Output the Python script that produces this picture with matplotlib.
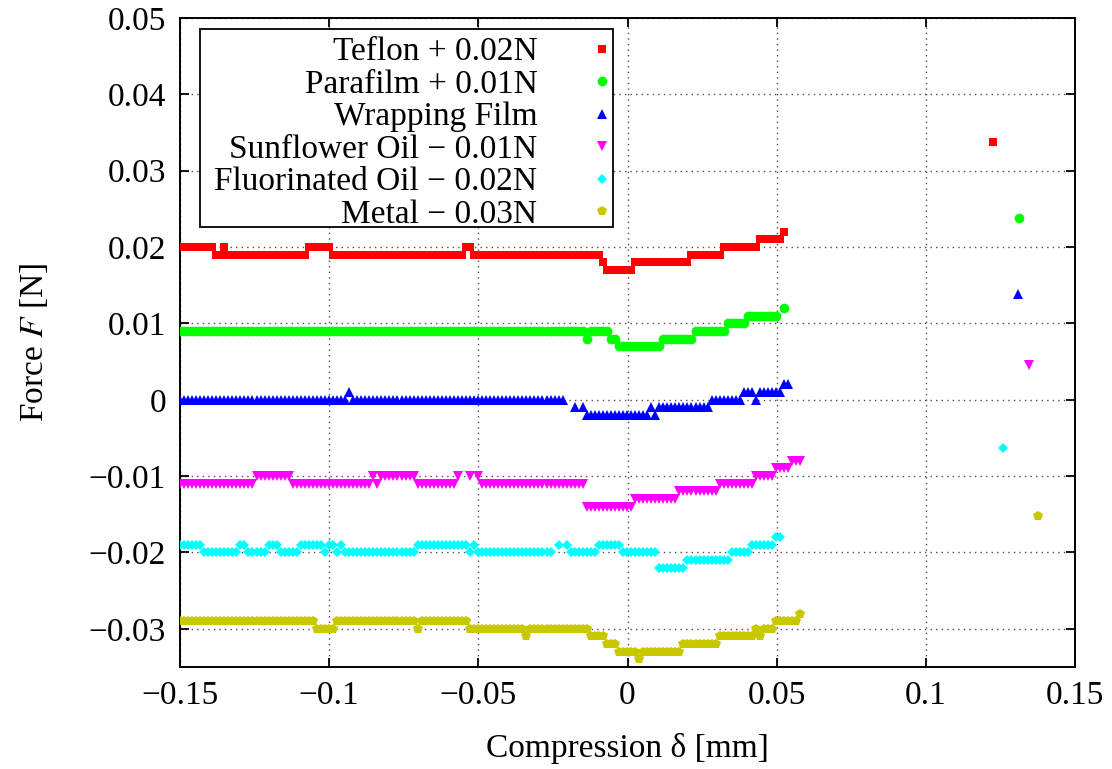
import numpy as np
import matplotlib
matplotlib.use("Agg")
import matplotlib.pyplot as plt
from matplotlib.patches import Rectangle
from matplotlib.ticker import MultipleLocator, FuncFormatter

# sampling of the compression axis (mm)
x_start = -0.15
x_step = 0.00135

# force readings, run-length coded: level in mN (None = no reading), repeat count
teflon_lv = [0, -1, 0, -1, 0, -1, 0, -1, -2, -3, -2, -1, 0, 1, 2]
teflon_n = [9, 2, 1, 20, 6, 33, 2, 32, 1, 7, 14, 8, 9, 6, 1]

parafilm_lv = [-1, -2, -1, -2, -3, -2, -1, 0, 1, None, 2]
parafilm_n = [101, 1, 5, 2, 11, 8, 8, 5, 8, 1, 1]

wrap_lv = [0, 1, 0, None, -1, None, -1, -2, -1, -2, -1, 0, 1, 0, 1, 2]
wrap_n = [42, 1, 53, 2, 1, 1, 1, 16, 1, 1, 13, 8, 3, 1, 6, 2]

sunflower_lv = [-1, 0, -1, 0, -1, 0, -1, 0, None, 0, None, 0, -1, -4, -3, -2, -1, 0, 1, 2]
sunflower_n = [19, 9, 20, 1, 1, 9, 10, 1, 2, 1, 1, 1, 26, 12, 11, 10, 9, 5, 4, 3]

fluor_lv = [1, 0, 1, 0, 1, 0, 1, 0, 1, 0, 1, 0, 1, 0, 1, 0, None, 1, None, 1, 0, 1, 0, -2, -1, 0, 1, 2]
fluor_n = [6, 9, 2, 5, 3, 5, 6, 1, 2, 1, 1, 18, 13, 1, 1, 19, 1, 1, 1, 1, 7, 6, 9, 7, 11, 5, 6, 2]

metal_lv = [1, 0, 1, 0, 1, 0, -1, 0, -1, -2, -3, -4, -3, -2, -1, 0, -1, 0, 1, 2]
metal_n = [34, 5, 20, 1, 12, 14, 1, 15, 4, 3, 5, 1, 10, 9, 9, 1, 1, 3, 6, 1]

# last reading of every run (far compression)
end_x = [0.1225, 0.1312, 0.1310, 0.1346, 0.1259, 0.1376]
end_f = [0.0138, 0.0138, 0.0139, 0.0146, 0.0137, 0.0148]

labels = ["Teflon + 0.02N", "Parafilm + 0.01N", "Wrapping Film",
          "Sunflower Oil \u2212 0.01N", "Fluorinated Oil \u2212 0.02N", "Metal \u2212 0.03N"]
offsets = [0.02, 0.01, 0.0, -0.01, -0.02, -0.03]
colors = ["#ff0000", "#00ff00", "#0000ff", "#ff00ff", "#00ffff", "#c8c800"]
markers = ["s", "o", "^", "v", "D", "p"]
msizes = [6.4, 7.0, 7.0, 7.0, 4.8, 7.2]
runs = [(teflon_lv, teflon_n), (parafilm_lv, parafilm_n), (wrap_lv, wrap_n),
        (sunflower_lv, sunflower_n), (fluor_lv, fluor_n), (metal_lv, metal_n)]


def expand(lv, n):
    y = []
    for v, c in zip(lv, n):
        y += [np.nan if v is None else v / 1000.0] * c
    return np.array(y)


plt.rcParams['font.family'] = ['Liberation Serif', 'DejaVu Serif']
plt.rcParams['mathtext.fontset'] = 'stix'
FS = 24

fig = plt.figure(figsize=(11.12, 7.69), dpi=100)
ax = fig.add_axes([180/1112, 1-667/769, 895/1112, 649/769])

for k in range(6):
    f = expand(*runs[k])
    x = x_start + x_step * np.arange(len(f))
    ax.plot(np.append(x, end_x[k]), np.append(f, end_f[k]) + offsets[k],
            linestyle="none", marker=markers[k], ms=msizes[k], color=colors[k],
            mec=colors[k], mew=0, label=labels[k], zorder=3)

ax.set_xlim(-0.15, 0.15)
ax.set_ylim(-0.035, 0.05)
ax.xaxis.set_major_locator(MultipleLocator(0.05))
ax.yaxis.set_major_locator(MultipleLocator(0.01))


def fmt(v, pos):
    if abs(v) < 1e-9:
        return "0"
    return ("%g" % round(v, 4)).replace("-", "\u2212")


ax.xaxis.set_major_formatter(FuncFormatter(fmt))
ax.yaxis.set_major_formatter(FuncFormatter(fmt))
ax.tick_params(direction="in", length=6.5, width=1.3, top=True, right=True,
               labelsize=FS, pad=10)
for s in ax.spines.values():
    s.set_linewidth(1.4)
ax.grid(True, linestyle=(0, (1, 3)), color="0.3", lw=1.0, zorder=0)

ax.set_xlabel("Compression \u03b4 [mm]", fontsize=FS)
ax.set_ylabel("Force $F$ [N]", fontsize=FS)
ax.xaxis.set_label_coords(0.5, -0.102)
ax.yaxis.set_label_coords(-0.145, 0.5)

# key box (gnuplot style: text right-aligned, sample on the right)
ax.add_patch(Rectangle((20/895, 440/649), 413/895, 198/649, transform=ax.transAxes,
                       facecolor="white", edgecolor="black", lw=1.3, zorder=4))
leg = ax.legend(loc="upper right", bbox_to_anchor=(429/895, 630/649), borderaxespad=0,
                markerfirst=False, fontsize=FS, numpoints=1, frameon=False,
                handlelength=0.4, handletextpad=1.75, labelspacing=0.06,
                borderpad=0)
leg.set_zorder(5)

fig.savefig("out.png", dpi=100)
